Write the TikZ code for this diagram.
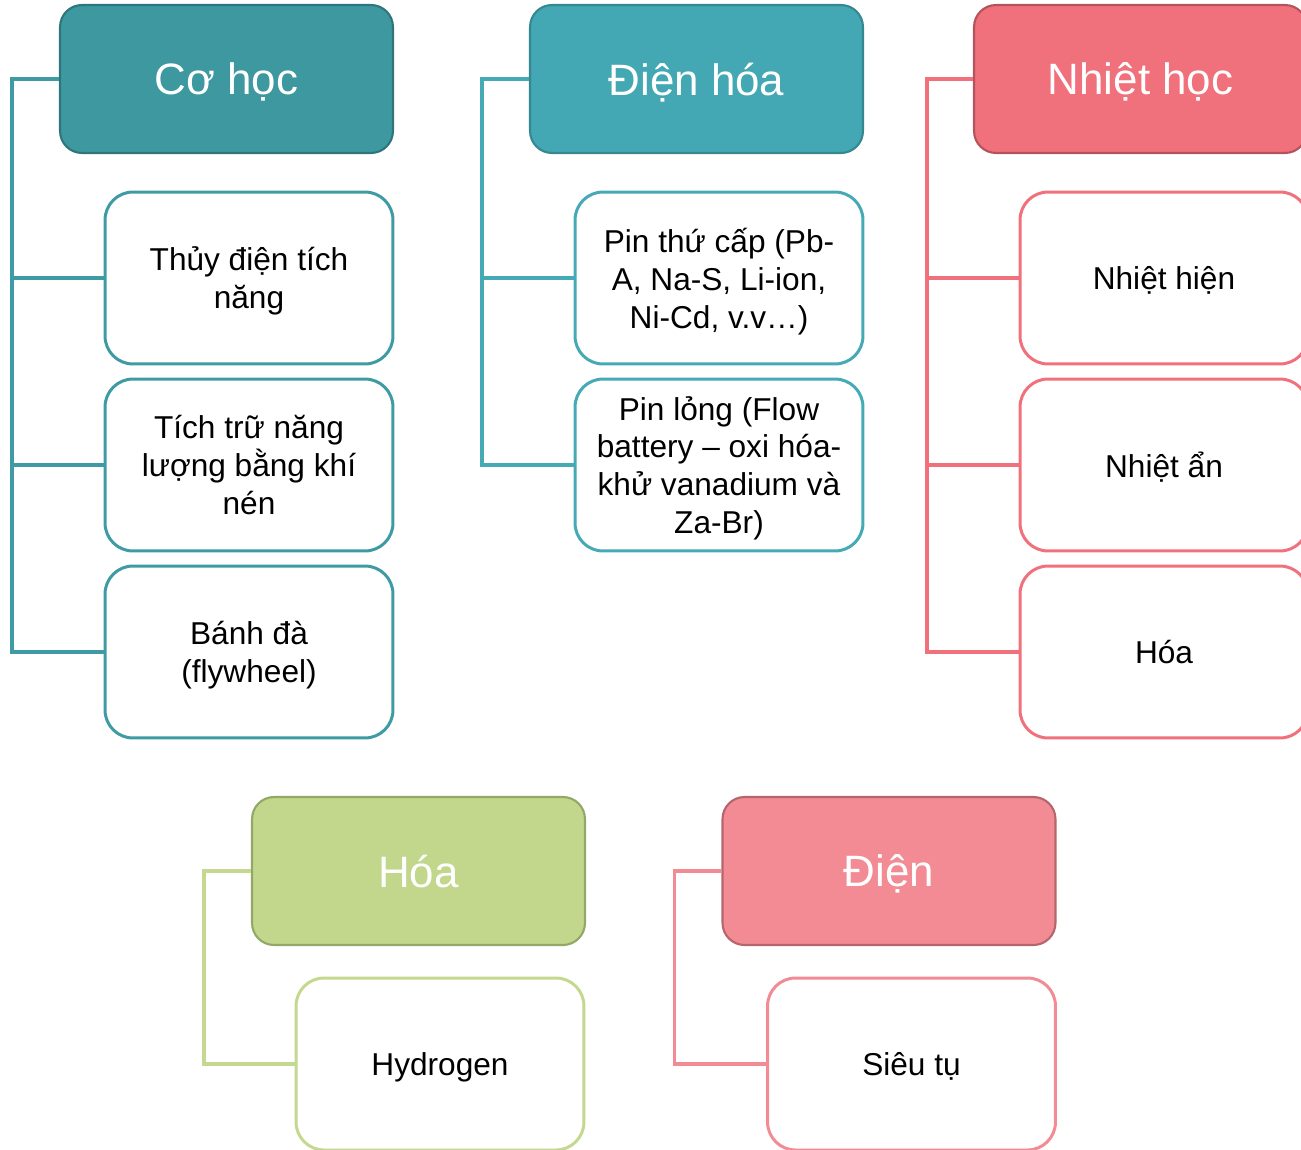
\documentclass[tikz,border=0pt]{standalone}
\usepackage{fontspec}
\setmainfont{Liberation Sans}
\usepackage{xcolor}
\definecolor{coFill}{HTML}{3D98A0}
\definecolor{coDraw}{HTML}{2F767C}
\definecolor{coLine}{HTML}{3E9BA4}
\definecolor{dhFill}{HTML}{43A8B3}
\definecolor{dhDraw}{HTML}{358891}
\definecolor{dhLine}{HTML}{45AAB5}
\definecolor{nhFill}{HTML}{F0707B}
\definecolor{nhDraw}{HTML}{B3545D}
\definecolor{nhLine}{HTML}{F0717C}
\definecolor{hoFill}{HTML}{C2D68C}
\definecolor{hoDraw}{HTML}{93A866}
\definecolor{hoLine}{HTML}{C4D88F}
\definecolor{diFill}{HTML}{F28B93}
\definecolor{diDraw}{HTML}{B4666C}
\definecolor{diLine}{HTML}{F28B93}

\begin{document}
\begin{tikzpicture}[x=0.02cm,y=-0.02cm,line join=miter,
    head/.style={draw,align=center,text depth=0pt,rounded corners=0.44cm,minimum width=6.66cm,minimum height=2.96cm,
        line width=1.2pt,text=white,font=\fontsize{25}{30}\selectfont},
    item/.style={draw,align=center,text depth=0pt,fill=white,rounded corners=0.56cm,minimum width=5.76cm,minimum height=3.44cm,
        line width=1.7pt,font=\fontsize{18}{21.6}\selectfont},
    conn/.style={line width=2pt}]
    \useasboundingbox (0,0) rectangle (1301,1149);
    \clip (0,0) rectangle (1301,1149);

    % Co hoc
    \node[head,fill=coFill,draw=coDraw] (cohoc) at (226.5,79) {Cơ học};
    \node[item,draw=coLine] (thuydien) at (249,278) {Thủy điện tích\\năng};
    \node[item,draw=coLine] (khinen) at (249,465) {Tích trữ năng\\lượng bằng khí\\nén};
    \node[item,draw=coLine] (banhda) at (249,652) {Bánh đà\\(flywheel)};
    \path (cohoc.west) ++(-47,0) coordinate (cotrunk);
    \draw[conn,coLine] (cohoc.west) -- (cotrunk) |- (banhda.west);
    \draw[conn,coLine] (cotrunk) |- (thuydien.west);
    \draw[conn,coLine] (cotrunk) |- (khinen.west);

    % Dien hoa
    \node[head,fill=dhFill,draw=dhDraw] (dienhoa) at (696.5,79) {Điện hóa};
    \node[item,draw=dhLine] (pinthucap) at (719,278) {Pin thứ cấp (Pb-\\A, Na-S, Li-ion,\\Ni-Cd, v.v…)};
    \node[item,draw=dhLine] (pinlong) at (719,465) {Pin lỏng (Flow\\battery – oxi hóa-\\khử vanadium và\\Za-Br)};
    \path (dienhoa.west) ++(-47,0) coordinate (dhtrunk);
    \draw[conn,dhLine] (dienhoa.west) -- (dhtrunk) |- (pinlong.west);
    \draw[conn,dhLine] (dhtrunk) |- (pinthucap.west);

    % Nhiet hoc
    \node[head,fill=nhFill,draw=nhDraw] (nhiethoc) at (1140.5,79) {Nhiệt học};
    \node[item,draw=nhLine] (nhiethien) at (1164,278) {Nhiệt hiện};
    \node[item,draw=nhLine] (nhietan) at (1164,465) {Nhiệt ẩn};
    \node[item,draw=nhLine] (hoanh) at (1164,652) {Hóa};
    \path (nhiethoc.west) ++(-46,0) coordinate (nhtrunk);
    \draw[conn,nhLine] (nhiethoc.west) -- (nhtrunk) |- (hoanh.west);
    \draw[conn,nhLine] (nhtrunk) |- (nhiethien.west);
    \draw[conn,nhLine] (nhtrunk) |- (nhietan.west);

    % Hoa
    \node[head,fill=hoFill,draw=hoDraw] (hoa) at (418.5,871) {Hóa};
    \node[item,draw=hoLine] (hydrogen) at (440,1064) {Hydrogen};
    \path (hoa.west) ++(-47,0) coordinate (hotrunk);
    \draw[conn,hoLine] (hoa.west) -- (hotrunk) |- (hydrogen.west);

    % Dien
    \node[head,fill=diFill,draw=diDraw] (dien) at (889,871) {Điện};
    \node[item,draw=diLine] (sieutu) at (911.5,1064) {Siêu tụ};
    \path (dien.west) ++(-47,0) coordinate (ditrunk);
    \draw[conn,diLine] (dien.west) -- (ditrunk) |- (sieutu.west);
\end{tikzpicture}
\end{document}
